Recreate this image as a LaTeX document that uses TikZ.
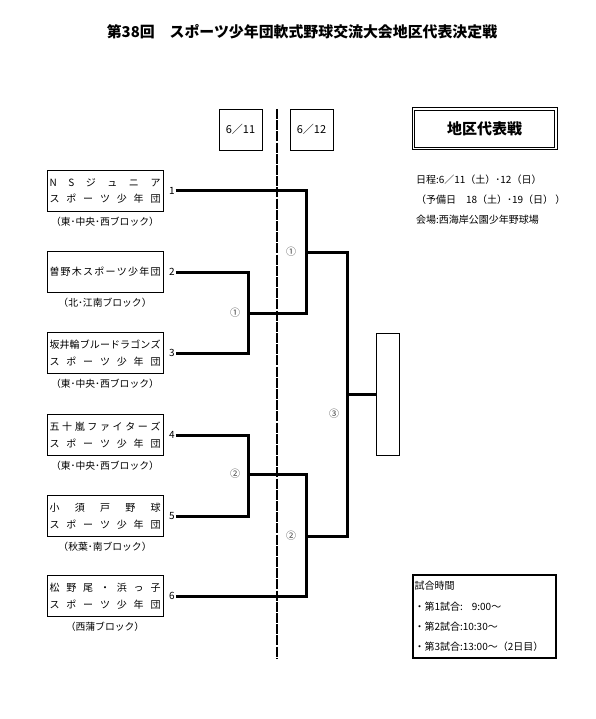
\documentclass[tikz,border=0pt]{standalone}
\usepackage{fontspec}
\setmainfont{Noto Sans CJK JP}
\usetikzlibrary{positioning}

\newcommand{\spreadrow}[1]{\makebox[111pt][s]{#1}}

\begin{document}
\begin{tikzpicture}[
  x=1pt,
  y=-1pt,
  every node/.style={inner sep=0pt, outer sep=0pt},
  team/.style={draw, line width=0.8pt, minimum width=116pt, minimum height=41pt, align=center, font=\fontsize{10}{16.5}\selectfont},
  block/.style={font=\fontsize{9.8}{10}\selectfont},
  num/.style={font=\fontsize{10}{10}\selectfont, inner sep=1pt},
  roundno/.style={font=\fontsize{10}{10}\selectfont, text=black!75},
  datebox/.style={draw, line width=0.8pt, minimum width=43pt, minimum height=41pt, font=\fontsize{11}{12}\selectfont},
  info/.style={font=\fontsize{10}{10}\selectfont, anchor=west},
  bracket/.style={line width=3pt},
  dayline/.style={line width=2.2pt, dash pattern=on 10pt off 1.2pt}
]

  \useasboundingbox (0,0) rectangle (595,719);

  % Title
  \node[font=\bfseries\fontsize{14.9}{16}\selectfont] (title) at (302,32) {第38回\hspace{1em}スポーツ少年団軟式野球交流大会地区代表決定戦};

  % Days
  \node[datebox] (day1) at (240.5,129.5) {6／11};
  \node[datebox] (day2) at (311.5,129.5) {6／12};
  \draw[dayline] (277,109) -- (277,658);

  % Teams
  \node[team] (t1) at (105,191) {\spreadrow{N\hfill S\hfill ジ\hfill ュ\hfill ニ\hfill ア}\\\spreadrow{ス\hfill ポ\hfill ー\hfill ツ\hfill 少\hfill 年\hfill 団}};
  \node[team] (t2) at (105,272) {\spreadrow{曽\hfill 野\hfill 木\hfill ス\hfill ポ\hfill ー\hfill ツ\hfill 少\hfill 年\hfill 団}};
  \node[team] (t3) at (105,353) {\spreadrow{坂\hfill 井\hfill 輪\hfill ブ\hfill ル\hfill ー\hfill ド\hfill ラ\hfill ゴ\hfill ン\hfill ズ}\\\spreadrow{ス\hfill ポ\hfill ー\hfill ツ\hfill 少\hfill 年\hfill 団}};
  \node[team] (t4) at (105,435) {\spreadrow{五\hfill 十\hfill 嵐\hfill フ\hfill ァ\hfill イ\hfill タ\hfill ー\hfill ズ}\\\spreadrow{ス\hfill ポ\hfill ー\hfill ツ\hfill 少\hfill 年\hfill 団}};
  \node[team] (t5) at (105,516) {\spreadrow{小\hfill 須\hfill 戸\hfill 野\hfill 球}\\\spreadrow{ス\hfill ポ\hfill ー\hfill ツ\hfill 少\hfill 年\hfill 団}};
  \node[team] (t6) at (105,596) {\spreadrow{松\hfill 野\hfill 尾\hfill ・\hfill 浜\hfill っ\hfill 子}\\\spreadrow{ス\hfill ポ\hfill ー\hfill ツ\hfill 少\hfill 年\hfill 団}};

  \node[block, below=6pt of t1] (b1) {（東･中央･西ブロック）};
  \node[block, below=6pt of t2] (b2) {（北･江南ブロック）};
  \node[block, below=6pt of t3] (b3) {（東･中央･西ブロック）};
  \node[block, below=6pt of t4] (b4) {（東･中央･西ブロック）};
  \node[block, below=6pt of t5] (b5) {（秋葉･南ブロック）};
  \node[block, below=6pt of t6] (b6) {（西蒲ブロック）};

  \node[num, right=5pt of t1] (n1) {1};
  \node[num, right=5pt of t2] (n2) {2};
  \node[num, right=5pt of t3] (n3) {3};
  \node[num, right=5pt of t4] (n4) {4};
  \node[num, right=5pt of t5] (n5) {5};
  \node[num, right=5pt of t6] (n6) {6};

  % Bracket
  \coordinate (r1a) at (248,313);
  \coordinate (r1b) at (248,474);
  \coordinate (r2a) at (306,252);
  \coordinate (r2b) at (306,536);
  \coordinate (fin) at (347,394);
  \node[draw, line width=0.8pt, minimum width=23pt, minimum height=122pt] (champ) at (387.5,394) {};

  \draw[bracket] (n2.east) -| (r1a) |- (n3.east);
  \draw[bracket] (n4.east) -| (r1b) |- (n5.east);
  \draw[bracket] (n1.east) -| (r2a) |- (r1a);
  \draw[bracket] (r1b) -| (r2b) |- (n6.east);
  \draw[bracket] (r2a) -| (fin) |- (r2b);
  \draw[bracket] (fin) -- (champ.west);

  \node[roundno, left=8pt of r1a] (m1a) {①};
  \node[roundno, left=8pt of r1b] (m1b) {②};
  \node[roundno, left=10pt of r2a] (m2a) {①};
  \node[roundno, left=10pt of r2b] (m2b) {②};
  \node[roundno] (m3) at (334,414) {③};

  % Info
  \node[draw, line width=1pt, minimum width=145pt, minimum height=42pt, font=\bfseries\fontsize{15}{16}\selectfont] (head) at (484.5,129) {地区代表戦};
  \draw[line width=0.6pt] ([shift={(2.5,2.5)}]head.north west) rectangle ([shift={(-2.5,-2.5)}]head.south east);
  \node[info] (info1) at (416,180) {日程:6／11（土）･12（日）};
  \node[info] (info2) at (416,200) {（予備日\hspace{1em}18（土）･19（日） ）};
  \node[info] (info3) at (416,220) {会場:西海岸公園少年野球場};

  \node[draw, line width=1.6pt, minimum width=143pt, minimum height=83pt, text width=140pt, align=left, font=\fontsize{10}{20.3}\selectfont] (times) at (484.5,616.5) {試合時間\\・第1試合:\hspace{0.9em}9:00～\\・第2試合:10:30～\\・第3試合:13:00～（2日目）};

\end{tikzpicture}
\end{document}
